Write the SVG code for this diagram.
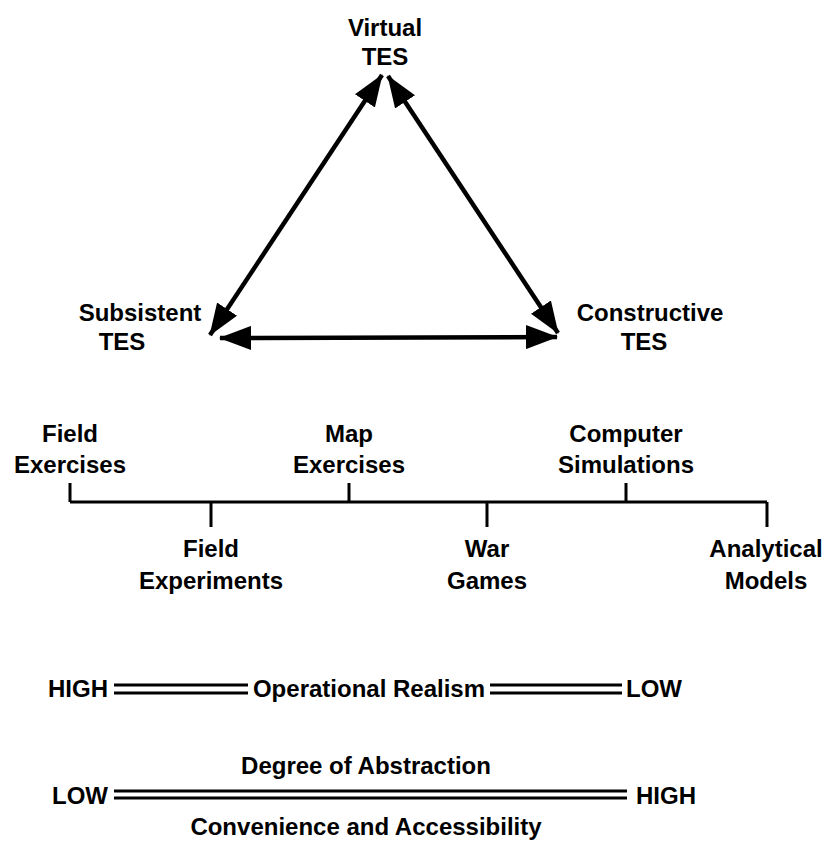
<svg xmlns="http://www.w3.org/2000/svg" width="823" height="841" viewBox="0 0 823 841">
<style>
text{font-family:"Liberation Sans",Arial,sans-serif;font-size:24px;font-weight:bold;fill:#000;text-anchor:middle}
.c{stroke:#000;stroke-width:4.5;fill:none}
.t{stroke:#000;stroke-width:3;fill:none}
.d{stroke:#000;stroke-width:3;fill:none}
</style>
<defs>
<marker id="ah" viewBox="0 0 32 24" refX="31" refY="12" markerWidth="32" markerHeight="24" markerUnits="userSpaceOnUse" orient="auto-start-reverse">
<path d="M0,0 L32,12 L0,24 Z" fill="#000"/>
</marker>
</defs>
<g id="virtual"><text x="385" y="36">Virtual</text><text x="385" y="65">TES</text></g>
<g id="subsistent"><text x="140" y="321">Subsistent</text><text x="122" y="350">TES</text></g>
<g id="constructive"><text x="650" y="321">Constructive</text><text x="644" y="350">TES</text></g>
<g id="connectors">
<line class="c" x1="210" y1="335" x2="382" y2="75" marker-start="url(#ah)" marker-end="url(#ah)"/>
<line class="c" x1="388" y1="76" x2="558" y2="333" marker-start="url(#ah)" marker-end="url(#ah)"/>
<line class="c" x1="220" y1="338" x2="557" y2="337" marker-start="url(#ah)" marker-end="url(#ah)"/>
</g>
<g id="timeline">
<path class="t" d="M70,502 H767 M70,483 V502 M349,483 V502 M626,483 V502 M211,502 V527 M487,502 V527 M767,502 V527"/>
</g>
<g id="field-exercises"><text x="70" y="442">Field</text><text x="70" y="473">Exercises</text></g>
<g id="map-exercises"><text x="349" y="442">Map</text><text x="349" y="473">Exercises</text></g>
<g id="computer-simulations"><text x="626" y="442">Computer</text><text x="626" y="473">Simulations</text></g>
<g id="field-experiments"><text x="211" y="557">Field</text><text x="211" y="589">Experiments</text></g>
<g id="war-games"><text x="487" y="557">War</text><text x="487" y="589">Games</text></g>
<g id="analytical-models"><text x="766" y="557">Analytical</text><text x="766" y="589">Models</text></g>
<g id="operational-realism">
<text x="108" y="697" style="text-anchor:end">HIGH</text>
<path class="d" d="M114,685 H248 M114,693 H248 M490,685 H622 M490,693 H622"/>
<text x="369" y="697">Operational Realism</text>
<text x="626" y="697" style="text-anchor:start">LOW</text>
</g>
<g id="abstraction">
<text x="366" y="774">Degree of Abstraction</text>
<text x="108" y="804" style="text-anchor:end">LOW</text>
<path class="d" d="M114,791 H627 M114,798 H627"/>
<text x="636" y="804" style="text-anchor:start">HIGH</text>
<text x="366" y="835">Convenience and Accessibility</text>
</g>
</svg>
